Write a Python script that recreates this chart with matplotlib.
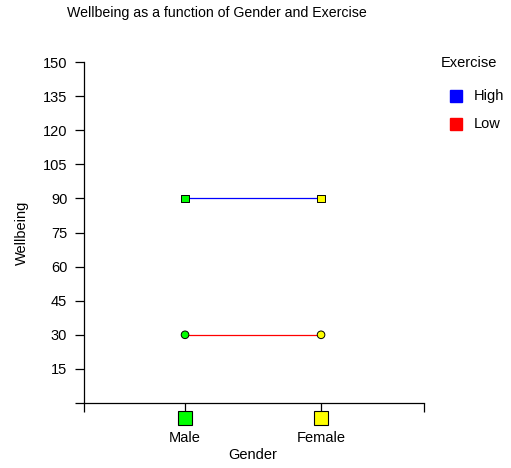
import matplotlib
matplotlib.use('Agg')
import matplotlib.pyplot as plt
from matplotlib.lines import Line2D

plt.rcParams['font.family'] = ['Liberation Sans', 'DejaVu Sans']

genders = ['Male', 'Female']
gender_colors = ['#00ff00', '#ffff00']
exercise = ['High', 'Low']
exercise_colors = ['#0000ff', '#ff0000']
exercise_markers = ['s', 'o']
wellbeing = {
    'High': [90, 90],
    'Low': [30, 30],
}
y_ticks = [0, 15, 30, 45, 60, 75, 90, 105, 120, 135, 150]

W, H = 511, 468
FS = 10.5
fig = plt.figure(figsize=(W / 100, H / 100), dpi=100)
ax = fig.add_axes([84 / W, (H - 403) / H, (424 - 84) / W, (403 - 62) / H])

xs = list(range(1, len(genders) + 1))
for lvl, col, mk in zip(exercise, exercise_colors, exercise_markers):
    ax.plot(xs, wellbeing[lvl], color=col, linewidth=0.9, zorder=2)
    ax.scatter(xs, wellbeing[lvl], marker=mk, s=30, c=gender_colors,
               edgecolors='black', linewidths=0.7, zorder=3)

ax.set_xlim(0.257, 2.757)
ax.set_ylim(0, 150)
ax.set_yticks(y_ticks)
ax.set_yticklabels([''] + [str(v) for v in y_ticks[1:]])
ax.set_xticks([0.257, 1, 2, 2.757])
ax.set_xticklabels([])
for s in ('top', 'right'):
    ax.spines[s].set_visible(False)
for s in ('left', 'bottom'):
    ax.spines[s].set_linewidth(0.9)
ax.tick_params(axis='both', length=6.5, width=0.9, labelsize=FS, pad=5.5)

# category markers and labels under the axis
for x, g, c in zip(xs, genders, gender_colors):
    ax.plot(x, -6.6, marker='s', markersize=10, markerfacecolor=c,
            markeredgecolor='black', markeredgewidth=0.8, clip_on=False)
    ax.text(x, -15.4, g, ha='center', va='center', fontsize=FS)
ax.text(1.5, -22.9, 'Gender', ha='center', va='center', fontsize=FS)
fig.text(22 / W, 1 - 233 / H, 'Wellbeing', rotation=90, ha='center', va='center', fontsize=FS)

fig.text(217 / W, 1 - 13 / H, 'Wellbeing as a function of Gender and Exercise',
         ha='center', va='center', fontsize=10.2)

# legend
fig.text(441 / W, 1 - 63 / H, 'Exercise', ha='left', va='center', fontsize=FS)
for i, (lvl, col) in enumerate(zip(exercise, exercise_colors)):
    yc = 1 - (96 + 28 * i) / H
    fig.add_artist(Line2D([456 / W], [yc], marker='s', markersize=9, color=col,
                          linestyle='none'))
    fig.text(474 / W, yc, lvl, ha='left', va='center', fontsize=FS)

fig.savefig('out.png', dpi=100)
